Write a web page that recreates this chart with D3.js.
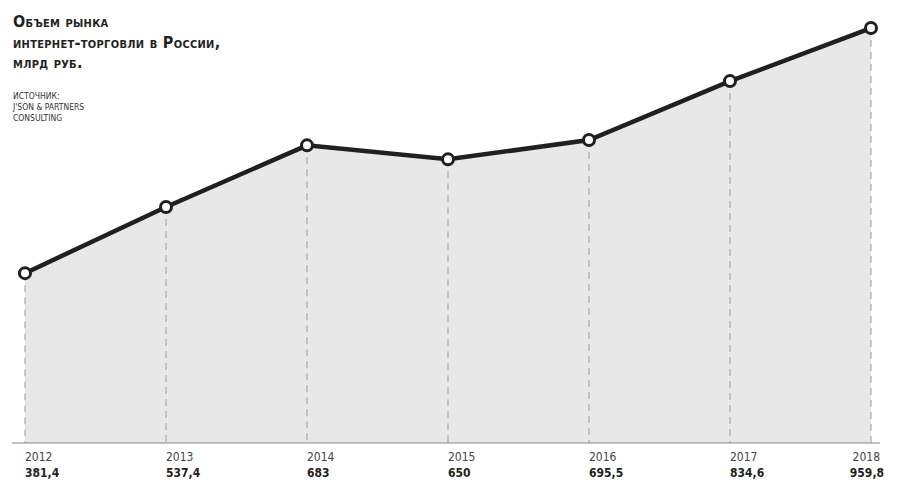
<!DOCTYPE html>
<html><head><meta charset="utf-8">
<script src="https://cdn.jsdelivr.net/npm/d3@7"></script>
<style>
body{margin:0;background:#fff;}
text{font-family:"DejaVu Sans Condensed","DejaVu Sans",sans-serif;}
</style></head>
<body><svg id="c" width="900" height="494"></svg>
<script>
const years = ["2012","2013","2014","2015","2016","2017","2018"];
const values = [381.4, 537.4, 683, 650, 695.5, 834.6, 959.8];
const valueLabels = ["381,4","537,4","683","650","695,5","834,6","959,8"];
const titleLines = ["Объем рынка","интернет-торговли в России,","млрд руб."];
const sourceLines = ["ИСТОЧНИК:","J'SON & PARTNERS","CONSULTING"];

const svg = d3.select("#c");
const baseY = 443;
const x = d3.scalePoint().domain(years).range([25, 871]);
const y = d3.scaleLinear().domain([0, 1000]).range([434.8, 11]);
const data = years.map((yr,i)=>({yr, v:values[i], lab:valueLabels[i]}));

svg.append("path").datum(data)
  .attr("d", d3.area().x(d=>x(d.yr)).y0(baseY).y1(d=>y(d.v)))
  .attr("fill","#e8e8e8");

svg.selectAll(".drop").data(data).join("line")
  .attr("x1",d=>x(d.yr)).attr("x2",d=>x(d.yr))
  .attr("y1",d=>y(d.v)).attr("y2",baseY)
  .attr("stroke","#aaa").attr("stroke-width",1.2).attr("stroke-dasharray","7,5");

svg.append("line").attr("x1",12).attr("x2",880).attr("y1",baseY).attr("y2",baseY)
  .attr("stroke","#888").attr("stroke-width",1.2);

svg.append("path").datum(data)
  .attr("d", d3.line().x(d=>x(d.yr)).y(d=>y(d.v)))
  .attr("fill","none").attr("stroke","#231f20").attr("stroke-width",4.5);

svg.selectAll(".pt").data(data).join("circle")
  .attr("cx",d=>x(d.yr)).attr("cy",d=>y(d.v)).attr("r",5.5)
  .attr("fill","#fff").attr("stroke","#231f20").attr("stroke-width",3);

const last = years.length-1;
svg.selectAll(".yr").data(data).join("text")
  .attr("x",(d,i)=> i===last ? 880 : x(d.yr))
  .attr("text-anchor",(d,i)=> i===last ? "end" : "start")
  .attr("y",461).attr("font-size",12).attr("fill","#444").text(d=>d.yr);
svg.selectAll(".vl").data(data).join("text")
  .attr("x",(d,i)=> i===last ? 884 : x(d.yr))
  .attr("text-anchor",(d,i)=> i===last ? "end" : "start")
  .attr("y",477).attr("font-size",12).attr("font-weight","bold").attr("fill","#231f20").text(d=>d.lab);

svg.selectAll(".tt").data(titleLines).join("text")
  .attr("x",13).attr("y",(d,i)=>27+i*20.5)
  .attr("font-size",16).attr("font-weight","bold").attr("fill","#231f20")
  .style("font-variant","small-caps").attr("letter-spacing",0.3)
  .text(d=>d);
svg.selectAll(".src").data(sourceLines).join("text")
  .attr("x",13).attr("y",(d,i)=>99+i*11)
  .attr("font-size",8.5).attr("fill","#333").text(d=>d);
</script></body></html>
